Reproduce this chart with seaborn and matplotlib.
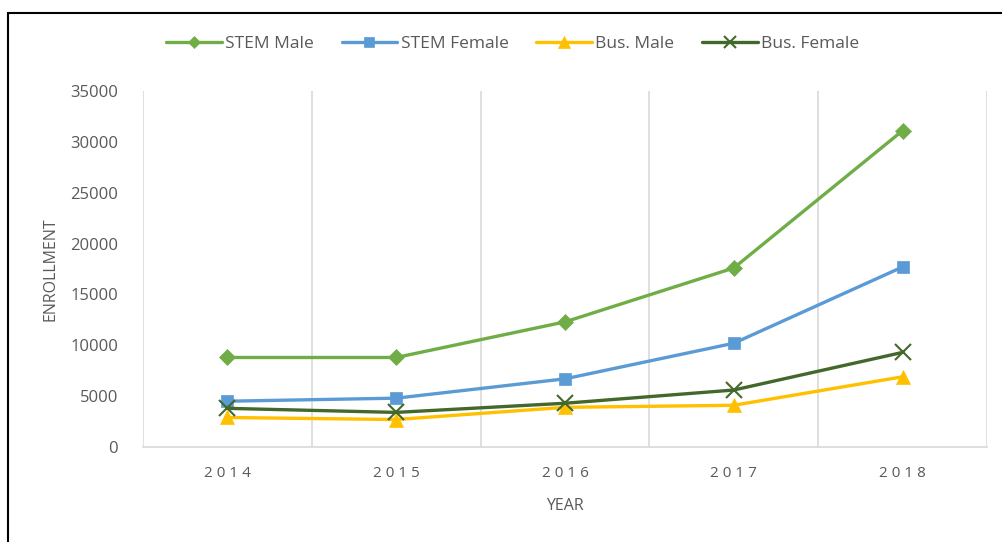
import seaborn as sns
import matplotlib
matplotlib.use("Agg")
import matplotlib.pyplot as plt
import pandas as pd
from matplotlib.patches import Rectangle

years = [2014, 2015, 2016, 2017, 2018]
stem_male = [8800, 8800, 12300, 17600, 31100]
stem_female = [4500, 4800, 6700, 10200, 17700]
bus_male = [2900, 2700, 3900, 4100, 6900]
bus_female = [3800, 3400, 4300, 5600, 9300]

series = ["STEM Male", "STEM Female", "Bus. Male", "Bus. Female"]
values = [stem_male, stem_female, bus_male, bus_female]
colors = ["#70AD47", "#5B9BD5", "#FFC000", "#43682B"]
markers = ["D", "s", "^", "x"]
msizes = [8, 9, 10, 11]

rows = []
for name, vals in zip(series, values):
    for y, v in zip(years, vals):
        rows.append({"year": y, "enrollment": v, "series": name})
df = pd.DataFrame(rows)

sns.set_style("white")
plt.rcParams["font.family"] = ["Open Sans", "DejaVu Sans"]

fig = plt.figure(figsize=(10.03, 5.42), dpi=100)
ax = fig.add_axes([0.1426, 0.1753, 0.8414, 0.6568])

for name, c, m, ms in zip(series, colors, markers, msizes):
    sns.lineplot(data=df[df.series == name], x="year", y="enrollment", ax=ax,
                 color=c, marker=m, markersize=ms, linewidth=2.4, label=name,
                 markeredgecolor=c, markeredgewidth=1.5 if m == "x" else 0.5)

ax.set_xlim(2013.5, 2018.5)
ax.set_ylim(0, 35000)
ax.set_yticks(range(0, 35001, 5000))
ax.set_xticks(years)
ax.set_xticklabels([" ".join(str(y)) for y in years])
ax.set_xticks([2013.5 + i for i in range(6)], minor=True)
ax.grid(False)
ax.grid(True, which="minor", axis="x", color="#D9D9D9", linewidth=1.2)
ax.tick_params(which="both", length=0)
ax.tick_params(axis="y", labelsize=12, labelcolor="#595959", pad=18)
ax.tick_params(axis="x", labelsize=11, labelcolor="#595959", pad=14)
for s in ["top", "right", "left"]:
    ax.spines[s].set_visible(False)
ax.spines["bottom"].set_color("#D9D9D9")
ax.spines["bottom"].set_linewidth(1.2)

ax.set_xlabel("YEAR", fontsize=11.5, color="#595959", labelpad=12)
ax.set_ylabel("ENROLLMENT", fontsize=11.5, color="#595959", labelpad=8)

leg = ax.legend(loc="center", bbox_to_anchor=(0.438, 1.132), ncol=4, frameon=False,
                fontsize=12.5, labelcolor="#595959", handlelength=3.2,
                columnspacing=1.6, handletextpad=0.2, markerscale=0.8)

fig.patches.append(Rectangle((8 / 1003, -0.1), 1.2, 1.1 - 13 / 542,
                             transform=fig.transFigure, fill=False,
                             edgecolor="black", linewidth=1.5))

fig.savefig("out.png", dpi=100)
